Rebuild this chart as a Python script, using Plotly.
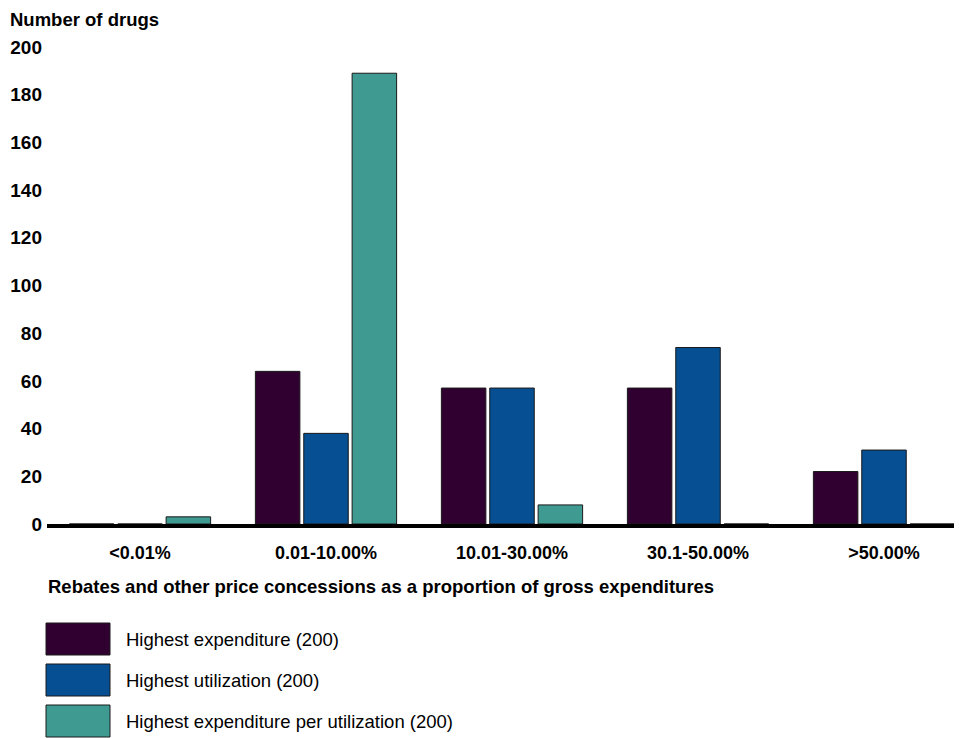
import plotly.graph_objects as go

categories = ["<0.01%", "0.01-10.00%", "10.01-30.00%", "30.1-50.00%", ">50.00%"]
series_names = [
    "Highest expenditure (200)",
    "Highest utilization (200)",
    "Highest expenditure per utilization (200)",
]
highest_expenditure = [0, 64, 57, 57, 22]
highest_utilization = [0, 38, 57, 74, 31]
highest_exp_per_util = [3, 189, 8, 0, 0]
y_ticks = [0, 20, 40, 60, 80, 100, 120, 140, 160, 180, 200]

colors = ["#2f0030", "#054f92", "#3f9a91"]
series_values = [highest_expenditure, highest_utilization, highest_exp_per_util]

OFF = 8  # page body margin
W, H = 962 - OFF, 738 - OFF
ML, MT = 47 - OFF, 47 - OFF
PR, PB = 955 - OFF, 524 - OFF
MR, MB = W - PR, H - PB
PW = PR - ML
PH = PB - MT

fig = go.Figure()
for name, vals, col in zip(series_names, series_values, colors):
    fig.add_trace(go.Bar(
        x=categories, y=vals, name=name,
        marker=dict(color=col, line=dict(color="#1a1a1a", width=1)),
        showlegend=False,
    ))

cat_px = 186.0
FONT = "Liberation Sans, Arial, sans-serif"
fig.update_layout(
    width=W, height=H,
    margin=dict(l=ML, r=MR, t=MT, b=MB, autoexpand=False),
    paper_bgcolor="white", plot_bgcolor="white",
    barmode="group", bargap=0.22, bargroupgap=0.08,
    font=dict(family=FONT, color="black"),
    xaxis=dict(
        type="category",
        range=[-0.5, -0.5 + PW / cat_px],
        showline=True, linecolor="black", linewidth=4,
        showgrid=False, ticks="",
        tickfont=dict(size=18, family=FONT, weight="bold"),
        ticklabelstandoff=9,
    ),
    yaxis=dict(
        range=[0, 200], tickvals=y_ticks,
        showgrid=False, zeroline=False, showline=False, ticks="",
        tickfont=dict(size=19, family=FONT, weight="bold"),
        ticklabelstandoff=4,
    ),
)

def px_x(x):
    return (x - OFF - ML) / PW

def px_y(y):
    return 1 - (y - OFF - MT) / PH

annotations = [
    dict(text="<b>Number of drugs</b>", x=px_x(9), y=px_y(OFF), xref="paper", yref="paper",
         xanchor="left", yanchor="top", showarrow=False, borderpad=0, font=dict(size=18.5)),
    dict(text="<b>Rebates and other price concessions as a proportion of gross expenditures</b>",
         x=px_x(46), y=px_y(586), xref="paper", yref="paper",
         xanchor="left", yanchor="middle", showarrow=False, font=dict(size=18.5)),
]
shapes = []
row_tops = [623, 664, 705]
for name, col, top in zip(series_names, colors, row_tops):
    shapes.append(dict(type="rect", xref="paper", yref="paper",
                       x0=px_x(46), x1=px_x(110), y0=px_y(top), y1=px_y(top + 32),
                       fillcolor=col, line=dict(color="#1a1a1a", width=1)))
    annotations.append(dict(text=name, x=px_x(124), y=px_y(top + 16), xref="paper", yref="paper",
                            xanchor="left", yanchor="middle", showarrow=False,
                            font=dict(size=18.5)))
fig.update_layout(annotations=annotations, shapes=shapes)

fig.write_html("out.html")
